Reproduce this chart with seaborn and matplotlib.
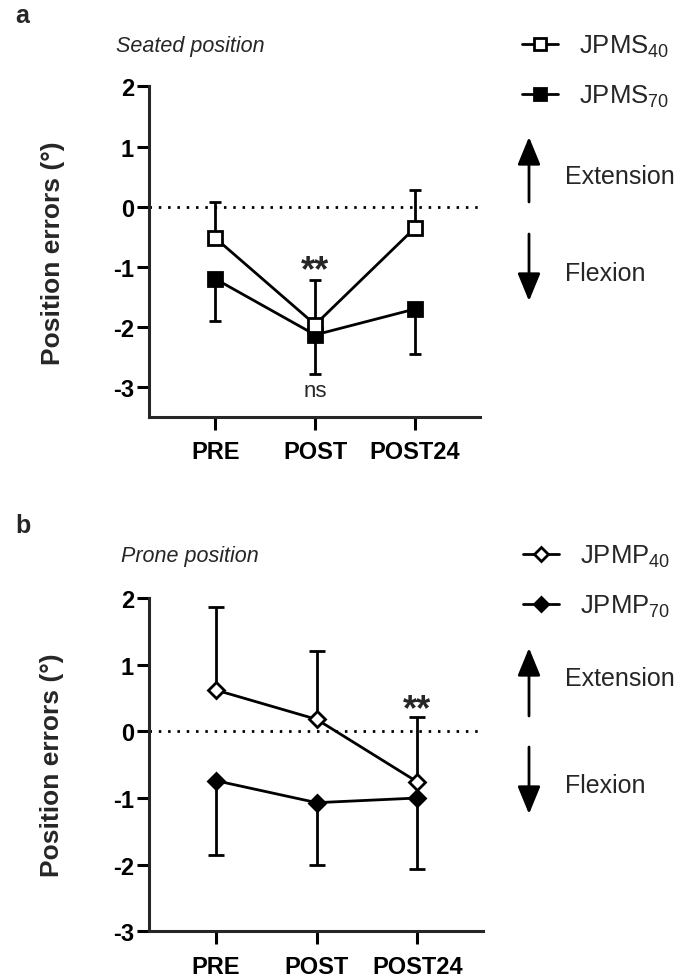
import numpy as np
import matplotlib.pyplot as plt
import seaborn as sns

phases = ['PRE', 'POST', 'POST24']

# panel a, seated position (mean and one-sided error)
jpms40_mean = [-0.52, -1.96, -0.35]
jpms40_err = [0.59, 0.74, 0.62]
jpms70_mean = [-1.20, -2.13, -1.70]
jpms70_err = [0.70, 0.65, 0.75]

# panel b, prone position
jpmp40_mean = [0.62, 0.18, -0.76]
jpmp40_err = [1.25, 1.02, 0.98]
jpmp70_mean = [-0.74, -1.07, -1.00]
jpmp70_err = [1.11, 0.93, 1.06]

sns.set_style('ticks')
plt.rcParams['font.family'] = ['Liberation Sans', 'DejaVu Sans']
plt.rcParams['mathtext.default'] = 'regular'
plt.rcParams['axes.unicode_minus'] = False

W, H = 675, 978
fx = lambda px: px / W
fy = lambda py: 1 - py / H

fig = plt.figure(figsize=(6.75, 9.78), dpi=100)
ax_a = fig.add_axes([0.2212, 0.5723, 0.49, 0.3384])
ax_b = fig.add_axes([0.2212, 0.0467, 0.4944, 0.3408])


def draw_panel(ax, m40, e40, m70, e70, marker, ms, lab40, lab70, capsize):
    x = np.arange(len(phases))
    ax.axhline(0, color='k', lw=2, ls=(0, (0.9, 2.45)), zorder=1)
    # one-sided error bars: 40 upward, 70 downward
    for m, e, up in [(m40, e40, True), (m70, e70, False)]:
        zero = np.zeros(len(m))
        yerr = [zero, np.array(e)] if up else [np.array(e), zero]
        eb = ax.errorbar(x, m, yerr=yerr, fmt='none', ecolor='k', elinewidth=2,
                         capsize=capsize, capthick=2, zorder=2)
        eb[1][0 if up else 1].set_visible(False)
    sns.lineplot(x=x, y=m40, ax=ax, color='k', lw=2, marker=marker, markersize=ms,
                 markerfacecolor='white', markeredgecolor='k', markeredgewidth=2,
                 label=lab40, zorder=4)
    sns.lineplot(x=x, y=m70, ax=ax, color='k', lw=2, marker=marker, markersize=ms,
                 markerfacecolor='k', markeredgecolor='k', markeredgewidth=2,
                 label=lab70, zorder=3)
    ax.set_xticks(x, phases)
    ax.set_yticks(range(-3, 3))
    ax.set_xlim(-0.66, 2.65)
    sns.despine(ax=ax)
    for sp in ['left', 'bottom']:
        ax.spines[sp].set_linewidth(2.2)
    ax.tick_params(width=2.2, length=9, labelsize=17, colors='k')
    ax.tick_params(axis='y', pad=2)
    for t in ax.get_xticklabels() + ax.get_yticklabels():
        t.set_fontweight('bold')
    ax.set_ylabel('Position errors (°)', fontsize=19, fontweight='bold')
    ax.yaxis.set_label_coords(-0.255, 0.5)
    ax.set_xlabel('')


def direction_arrows(ax, up_tip, up_tail, dn_tail, dn_tip, ext_y, flex_y):
    for tip, tail in [(up_tip, up_tail), (dn_tip, dn_tail)]:
        ax.annotate('', xy=(fx(529), fy(tip)), xytext=(fx(529), fy(tail)),
                    xycoords='figure fraction', textcoords='figure fraction',
                    arrowprops=dict(arrowstyle='-|>,head_length=1.7,head_width=0.7',
                                    mutation_scale=10, color='k', lw=2,
                                    shrinkA=0, shrinkB=0))
    fig.text(fx(565), fy(ext_y), 'Extension', va='center', fontsize=18)
    fig.text(fx(565), fy(flex_y), 'Flexion', va='center', fontsize=18)


# panel a
draw_panel(ax_a, jpms40_mean, jpms40_err, jpms70_mean, jpms70_err, 's', 10,
           'JPMS$_{40}$', 'JPMS$_{70}$', 4.5)
ax_a.set_ylim(-3.5, 2)
ax_a.tick_params(axis='x', pad=7)
ax_a.text(1, -1.22, '**', ha='center', va='baseline', fontsize=26, fontweight='bold')
ax_a.text(1, -3.14, 'ns', ha='center', va='baseline', fontsize=16)
ax_a.legend(loc='center left', bbox_to_anchor=(fx(522), fy(72)),
            bbox_transform=fig.transFigure, frameon=False, fontsize=18.5,
            borderpad=0, borderaxespad=0, handlelength=1.4, handletextpad=0.8,
            labelspacing=0.9, markerscale=0.8)
direction_arrows(ax_a, 138, 203, 235, 302, 177, 274)
fig.text(fx(15), fy(23), 'a', fontweight='bold', fontsize=18, va='baseline')
fig.text(fx(116), fy(52), 'Seated position', style='italic', fontsize=15.5, va='baseline')

# panel b
draw_panel(ax_b, jpmp40_mean, jpmp40_err, jpmp70_mean, jpmp70_err, 'D', 8,
           'JPMP$_{40}$', 'JPMP$_{70}$', 5.5)
ax_b.set_ylim(-3, 2)
ax_b.tick_params(axis='x', pad=8)
ax_b.text(2, 0.19, '**', ha='center', va='baseline', fontsize=26, fontweight='bold')
ax_b.legend(loc='center left', bbox_to_anchor=(fx(523), fy(582)),
            bbox_transform=fig.transFigure, frameon=False, fontsize=18.5,
            borderpad=0, borderaxespad=0, handlelength=1.4, handletextpad=0.8,
            labelspacing=0.9, markerscale=0.9)
direction_arrows(ax_b, 649, 717, 748, 815, 679, 786)
fig.text(fx(15), fy(533), 'b', fontweight='bold', fontsize=18, va='baseline')
fig.text(fx(121), fy(562), 'Prone position', style='italic', fontsize=15.5, va='baseline')

fig.savefig('out.png', dpi=100)
